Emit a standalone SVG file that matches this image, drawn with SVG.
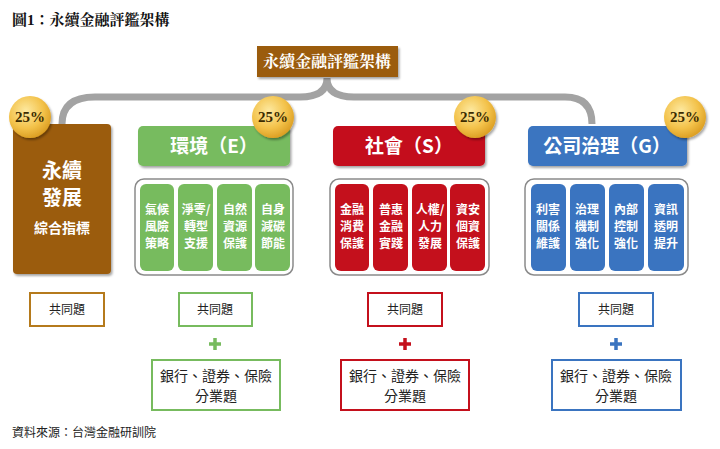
<svg xmlns="http://www.w3.org/2000/svg" width="720" height="449" viewBox="0 0 720 449">
<defs>
<radialGradient id="gold" cx="0.4" cy="0.35" r="0.7"><stop offset="0" stop-color="#fde9a0"/><stop offset="0.6" stop-color="#f3c24a"/><stop offset="1" stop-color="#d99a1e"/></radialGradient>
<filter id="sh" x="-10%" y="-10%" width="130%" height="130%"><feDropShadow dx="1.5" dy="2" stdDeviation="1.2" flood-color="#000" flood-opacity="0.35"/></filter>
</defs>
<style>
.t{font-family:"Noto Sans CJK TC","Noto Sans CJK SC",sans-serif;font-weight:bold;fill:#fff;text-anchor:middle}
.s{font-family:"Liberation Serif","Noto Serif CJK TC","Noto Sans CJK TC",serif;font-weight:bold}
.k{font-family:"Noto Sans CJK TC",sans-serif;fill:#222;text-anchor:middle}
.in{font-family:"Noto Sans CJK TC",sans-serif;font-weight:bold;fill:#fff;text-anchor:middle;font-size:12px}
.cont{fill:#fff;stroke:#8a8a8a;stroke-width:1.5}
.badge{fill:url(#gold);filter:url(#sh)}
.pct{font-family:"Liberation Serif",serif;font-weight:bold;font-size:15px;fill:#3a2a00;text-anchor:middle}
.g{fill:#77bb5e}.r{fill:#c4101c}.b{fill:#3a74c0}
</style>
<text x="12" y="25" class="s" font-size="15" fill="#111" font-family="Noto Serif CJK TC,Noto Sans CJK TC,serif">圖1：永續金融評鑑架構</text>
<g id="connectors">
<path d="M327,78 Q327,97 300,97 L95,97 Q62,97 62,124 M327,78 Q327,97 354,97 L565,97 Q592,97 592,124" fill="none" stroke="#a3a3a3" stroke-width="7"/>
</g>
<g id="top"><rect x="257" y="46" width="141" height="31" fill="#9b5b0c" filter="url(#sh)"/><text x="327" y="67" class="s" font-size="16" fill="#fff" text-anchor="middle" font-family="Noto Serif CJK TC,serif">永續金融評鑑架構</text></g>
<g id="dev"><rect x="13" y="124" width="98" height="150" rx="4" fill="#9b5b0c" filter="url(#sh)"/>
<text x="62" y="178" class="t" font-size="20">永續</text><text x="62" y="205" class="t" font-size="20">發展</text><text x="62" y="233" class="t" font-size="14">綜合指標</text></g>
<g id="env"><rect x="138" y="126" width="152" height="40" rx="5" class="g" filter="url(#sh)"/><text x="214" y="153" class="t" font-size="19">環境（E）</text>
<rect x="135" y="179" width="158" height="96" rx="9" class="cont"/>
<rect x="140" y="184" width="34" height="87" rx="6" class="g"/><rect x="178" y="184" width="35" height="87" rx="6" class="g"/><rect x="217" y="184" width="35" height="87" rx="6" class="g"/><rect x="255" y="184" width="35" height="87" rx="6" class="g"/>
<text class="in" x="157" y="214">氣候</text><text class="in" x="157" y="231">風險</text><text class="in" x="157" y="248">策略</text>
<text class="in" x="196" y="214">淨零/</text><text class="in" x="196" y="231">轉型</text><text class="in" x="196" y="248">支援</text>
<text class="in" x="235" y="214">自然</text><text class="in" x="235" y="231">資源</text><text class="in" x="235" y="248">保護</text>
<text class="in" x="273" y="214">自身</text><text class="in" x="273" y="231">減碳</text><text class="in" x="273" y="248">節能</text></g>
<g id="soc"><rect x="333" y="126" width="152" height="40" rx="5" class="r" filter="url(#sh)"/><text x="409" y="153" class="t" font-size="19">社會（S）</text>
<rect x="330" y="179" width="159" height="96" rx="9" class="cont"/>
<rect x="335" y="184" width="34" height="87" rx="6" class="r"/><rect x="373" y="184" width="35" height="87" rx="6" class="r"/><rect x="412" y="184" width="35" height="87" rx="6" class="r"/><rect x="450" y="184" width="35" height="87" rx="6" class="r"/>
<text class="in" x="352" y="214">金融</text><text class="in" x="352" y="231">消費</text><text class="in" x="352" y="248">保護</text>
<text class="in" x="391" y="214">普惠</text><text class="in" x="391" y="231">金融</text><text class="in" x="391" y="248">實踐</text>
<text class="in" x="430" y="214">人權/</text><text class="in" x="430" y="231">人力</text><text class="in" x="430" y="248">發展</text>
<text class="in" x="468" y="214">資安</text><text class="in" x="468" y="231">個資</text><text class="in" x="468" y="248">保護</text></g>
<g id="gov"><rect x="528" y="126" width="159" height="40" rx="5" class="b" filter="url(#sh)"/><text x="607" y="153" class="t" font-size="19">公司治理（G）</text>
<rect x="525" y="179" width="163" height="96" rx="9" class="cont"/>
<rect x="531" y="184" width="35" height="87" rx="6" class="b"/><rect x="570" y="184" width="35" height="87" rx="6" class="b"/><rect x="609" y="184" width="35" height="87" rx="6" class="b"/><rect x="648" y="184" width="36" height="87" rx="6" class="b"/>
<text class="in" x="548" y="214">利害</text><text class="in" x="548" y="231">關係</text><text class="in" x="548" y="248">維護</text>
<text class="in" x="587" y="214">治理</text><text class="in" x="587" y="231">機制</text><text class="in" x="587" y="248">強化</text>
<text class="in" x="626" y="214">內部</text><text class="in" x="626" y="231">控制</text><text class="in" x="626" y="248">強化</text>
<text class="in" x="666" y="214">資訊</text><text class="in" x="666" y="231">透明</text><text class="in" x="666" y="248">提升</text></g>
<g id="badges">
<circle cx="30" cy="117" r="21" class="badge"/><text x="30" y="122" class="pct">25%</text>
<circle cx="273" cy="117" r="21" class="badge"/><text x="273" y="122" class="pct">25%</text>
<circle cx="475" cy="117" r="21" class="badge"/><text x="475" y="122" class="pct">25%</text>
<circle cx="685" cy="117" r="21" class="badge"/><text x="685" y="122" class="pct">25%</text>
</g>
<g id="bottom">
<rect x="30" y="293" width="74" height="33" fill="#fff" stroke="#b57a1c" stroke-width="2"/><text x="67" y="314" class="k" font-size="12">共同題</text>
<rect x="179" y="293" width="73" height="33" fill="#fff" stroke="#77bb5e" stroke-width="2"/><text x="215" y="314" class="k" font-size="12">共同題</text>
<rect x="368" y="293" width="74" height="33" fill="#fff" stroke="#c4101c" stroke-width="2"/><text x="405" y="314" class="k" font-size="12">共同題</text>
<rect x="579" y="293" width="74" height="33" fill="#fff" stroke="#3a74c0" stroke-width="2"/><text x="616" y="314" class="k" font-size="12">共同題</text>
<path d="M215,338 v12 M209,344 h12" stroke="#77bb5e" stroke-width="3.5"/>
<path d="M405,338 v12 M399,344 h12" stroke="#c4101c" stroke-width="3.5"/>
<path d="M616,338 v12 M610,344 h12" stroke="#3a74c0" stroke-width="3.5"/>
<rect x="152" y="360" width="128" height="50" fill="#fff" stroke="#77bb5e" stroke-width="2"/><text x="216" y="381" class="k" font-size="14">銀行、證券、保險</text><text x="216" y="401" class="k" font-size="14">分業題</text>
<rect x="341" y="360" width="128" height="50" fill="#fff" stroke="#c4101c" stroke-width="2"/><text x="405" y="381" class="k" font-size="14">銀行、證券、保險</text><text x="405" y="401" class="k" font-size="14">分業題</text>
<rect x="552" y="360" width="129" height="50" fill="#fff" stroke="#3a74c0" stroke-width="2"/><text x="616" y="381" class="k" font-size="14">銀行、證券、保險</text><text x="616" y="401" class="k" font-size="14">分業題</text>
</g>
<text x="12" y="437" font-family="Noto Sans CJK TC,sans-serif" font-size="12" fill="#222">資料來源：台灣金融研訓院</text>
</svg>
